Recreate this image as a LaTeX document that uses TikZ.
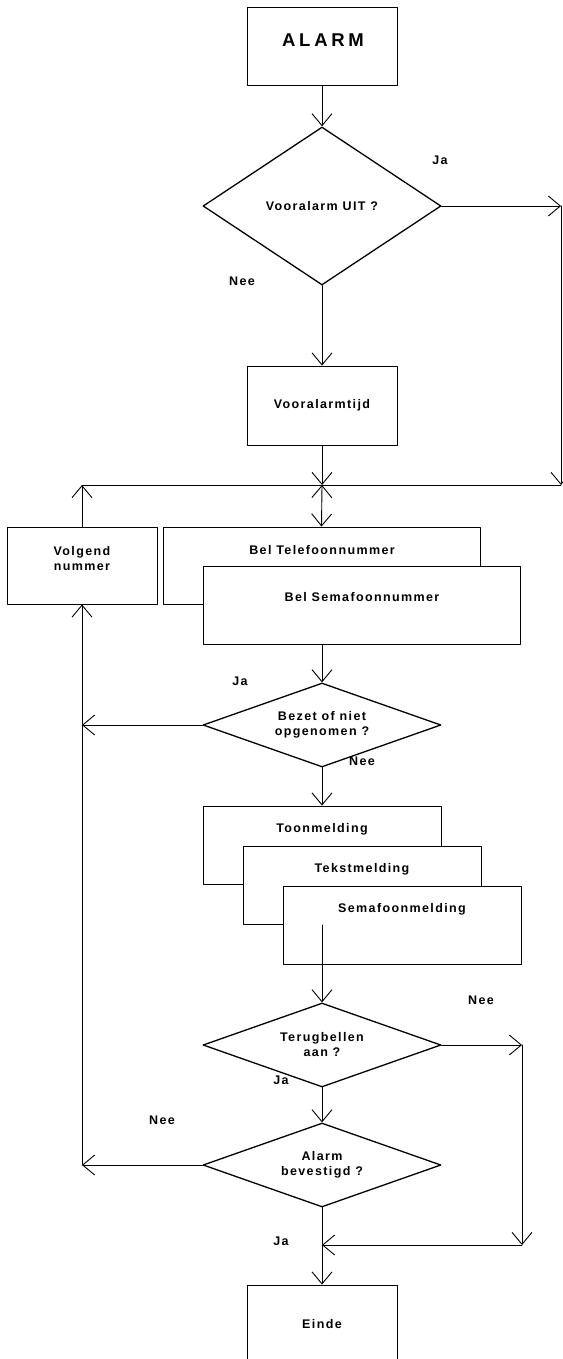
\documentclass[tikz,border=0pt]{standalone}
\usepackage{fontspec}
\newfontfamily\flowfont{Liberation Sans}[LetterSpace=11]
\newfontfamily\kopfont{Liberation Sans}[LetterSpace=20]
\usetikzlibrary{shapes.geometric,arrows.meta}
\begin{document}
\begin{tikzpicture}[x=1pt,y=-1pt,>={Straight Barb[length=12pt,width=20pt]},
	font=\flowfont\bfseries\fontsize{12.5}{15}\selectfont, line width=0.9pt, line join=round, line cap=round,
	blok/.style={draw, fill=white, inner sep=0pt},
	keuze/.style={draw, diamond, fill=white, inner sep=0pt, line width=1.3pt, align=center},
	tekst/.style={inner sep=0pt, align=center}]
	\useasboundingbox (0,0) rectangle (562,1359);
	% blokken
	\node[blok, minimum width=150pt, minimum height=78pt] (alarm) at (322,46) {};
	\node[tekst, font=\kopfont\bfseries\fontsize{18.5}{20}\selectfont] (alarm-t) at (323,40) {ALARM};
	\node[keuze, minimum width=238pt, minimum height=158pt, shape aspect=1.506] (vraag1) at (322,206) {Vooralarm UIT ?};
	\node[blok, minimum width=150pt, minimum height=79pt] (tijd) at (322,405.5) {Vooralarmtijd};
	\node[blok, minimum width=150pt, minimum height=77pt] (volgend) at (82,565.5) {};
	\node[tekst] (volgend-t) at (82,559) {Volgend\\nummer};
	\node[blok, minimum width=317pt, minimum height=77pt] (beltel) at (321.5,565.5) {};
	\node[tekst] (beltel-t) at (322,550) {Bel Telefoonnummer};
	\node[blok, minimum width=317pt, minimum height=78pt] (belsem) at (361.5,605) {};
	\node[tekst] (belsem-t) at (362,597) {Bel Semafoonnummer};
	\node[keuze, minimum width=238pt, minimum height=84pt, shape aspect=2.833] (vraag2) at (322,725) {Bezet of niet\\opgenomen ?};
	\node[blok, minimum width=238pt, minimum height=78pt] (toon) at (322,845) {};
	\node[tekst] (toon-t) at (322,829) {Toonmelding};
	\node[blok, minimum width=238pt, minimum height=78pt] (tekstm) at (362,885) {};
	\node[tekst] (tekstm-t) at (362,869) {Tekstmelding};
	\node[blok, minimum width=238pt, minimum height=78pt] (sema) at (402,925) {};
	\node[tekst] (sema-t) at (402,909) {Semafoonmelding};
	\node[keuze, minimum width=238pt, minimum height=84pt, shape aspect=2.833] (vraag3) at (322,1045) {Terugbellen\\aan ?};
	\node[keuze, minimum width=238pt, minimum height=84pt, shape aspect=2.833] (vraag4) at (322,1165) {Alarm\\bevestigd ?};
	\node[blok, minimum width=150pt, minimum height=78pt] (einde) at (322,1324) {Einde};
	% ja / nee
	\node[tekst] (ja1) at (440,160) {Ja};
	\node[tekst] (nee1) at (242,281) {Nee};
	\node[tekst] (ja2) at (240,681) {Ja};
	\node[tekst] (nee2) at (362,761) {Nee};
	\node[tekst] (nee3) at (481,1000) {Nee};
	\node[tekst] (ja3) at (281,1080) {Ja};
	\node[tekst] (nee4) at (162,1120) {Nee};
	\node[tekst] (ja4) at (281,1241) {Ja};
	% hulppunten
	\coordinate (R1) at (561,206);
	\coordinate (R2) at (561,485);
	\coordinate (J) at (322,485);
	\coordinate (L) at (82,485);
	\coordinate (P2) at (82,725);
	\coordinate (P4) at (82,1165);
	\coordinate (S) at (322,925);
	\coordinate (K) at (522,1045);
	\coordinate (K2) at (522,1245);
	\coordinate (M) at (322,1245);
	% verbindingen
	\draw[->] (alarm) -- (vraag1);
	\draw[->] (vraag1.east) -- (R1);
	\draw[->] (R1) -- (R2);
	\draw (R2) -- (L);
	\draw[->] (vraag1) -- (tijd);
	\draw[->] (tijd) -- (J);
	\draw[<->] (J) -- (beltel.north);
	\draw[->] (volgend) -- (L);
	\draw[->] (vraag2.north |- belsem.south) -- (vraag2.north);
	\draw[->] (vraag2.west) -- (P2);
	\draw[->] (vraag2) -- (toon);
	\draw[->] (S) -- (vraag3);
	\draw[->] (vraag3.east) -- (K);
	\draw[->] (K) -- (K2);
	\draw[->] (K2) -- (M);
	\draw[->] (vraag3) -- (vraag4);
	\draw[->] (vraag4.west) -- (P4);
	\draw[->] (P4) -- (volgend.south);
	\draw[->] (vraag4) -- (einde);
\end{tikzpicture}
\end{document}
